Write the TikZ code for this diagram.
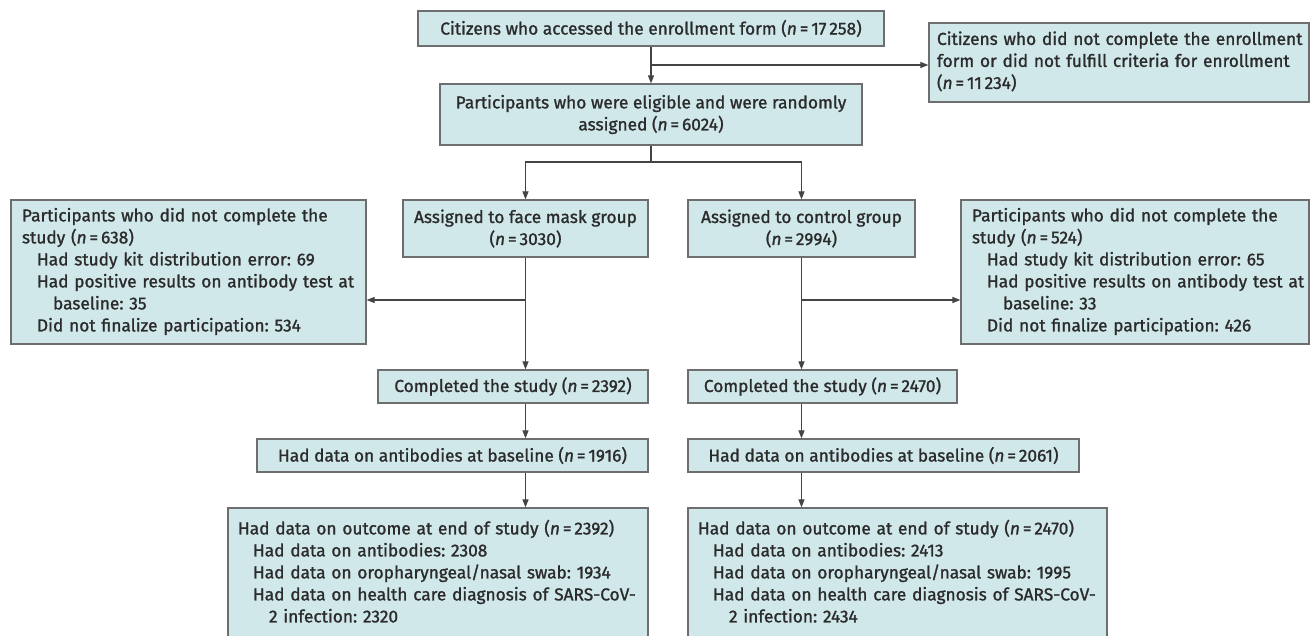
\documentclass[tikz,border=0pt]{standalone}
\usepackage{fontspec}
\setmainfont{Fira Sans}[FakeBold=1.2]
\usetikzlibrary{arrows.meta}
\definecolor{boxfill}{HTML}{D1E8EA}
\definecolor{boxline}{HTML}{6E6E6E}
\definecolor{txt}{HTML}{2B2B2B}
\definecolor{conn}{HTML}{444444}
\newcommand\indA{\hspace*{15pt}}
\newcommand\indB{\hspace*{31pt}}
\newcommand\boxlines[1]{\begin{tabular}{@{}l@{}}#1\end{tabular}}
\frenchspacing
\begin{document}
\begin{tikzpicture}[x=1pt,y=-1pt,
  every node/.style={font=\fontsize{17.3}{22}\selectfont\frenchspacing, text=txt},
  cbox/.style={draw=boxline, fill=boxfill, line width=1.2pt, inner sep=0pt, align=center},
  lbox/.style={draw=boxline, fill=boxfill, line width=1.2pt, inner xsep=10pt, inner ysep=0pt, align=left},
  arr/.style={draw=conn, line width=1.1pt, -{Triangle[length=8pt,width=6pt]}},
  ln/.style={draw=conn, line width=1.1pt}]
\useasboundingbox (0,0) rectangle (1310,635);
\fill[white] (0,0) rectangle (1310,635);

\node[cbox, minimum width=466pt, minimum height=35pt] (top) at (651,28.5)
  {Citizens who accessed the enrollment form (\textit{n}\,=\,17\,258)};
\node[lbox, inner xsep=8pt, text width=364pt, minimum height=79pt] (excl) at (1119,62.5)
  {\boxlines{Citizens who did not complete the enrollment\\form or did not fulfill criteria for enrollment\\(\textit{n}\,=\,11\,234)}};
\node[cbox, minimum width=422pt, minimum height=61pt] (elig) at (651,114.5)
  {Participants who were eligible and were randomly\\assigned (\textit{n}\,=\,6024)};
\node[cbox, minimum width=245pt, minimum height=57pt] (mask) at (525.5,228.5)
  {Assigned to face mask group\\(\textit{n}\,=\,3030)};
\node[cbox, minimum width=227pt, minimum height=57pt] (ctrl) at (801.5,228.5)
  {Assigned to control group\\(\textit{n}\,=\,2994)};
\node[lbox, inner xsep=11pt, text width=333pt, minimum height=144pt] (dropL) at (188.5,272)
  {\boxlines{Participants who did not complete the\\study (\textit{n}\,=\,638)\\\indA Had study kit distribution error: 69\\\indA Had positive results on antibody test at\\\indB baseline: 35\\\indA Did not finalize participation: 534}};
\node[lbox, inner xsep=11pt, text width=326pt, minimum height=144pt] (dropR) at (1135,272)
  {\boxlines{Participants who did not complete the\\study (\textit{n}\,=\,524)\\\indA Had study kit distribution error: 65\\\indA Had positive results on antibody test at\\\indB baseline: 33\\\indA Did not finalize participation: 426}};
\node[cbox, minimum width=270pt, minimum height=33pt] (compL) at (513,386.5)
  {Completed the study (\textit{n}\,=\,2392)};
\node[cbox, minimum width=269pt, minimum height=33pt] (compR) at (822.5,386.5)
  {Completed the study (\textit{n}\,=\,2470)};
\node[cbox, minimum width=391pt, minimum height=33pt] (abL) at (452.5,455.5)
  {Had data on antibodies at baseline (\textit{n}\,=\,1916)};
\node[cbox, minimum width=391pt, minimum height=33pt] (abR) at (883.5,455.5)
  {Had data on antibodies at baseline (\textit{n}\,=\,2061)};
\node[lbox, text width=400pt, minimum height=132pt] (outL) at (438,574)
  {\boxlines{Had data on outcome at end of study (\textit{n}\,=\,2392)\\\indA Had data on antibodies: 2308\\\indA Had data on oropharyngeal/nasal swab: 1934\\\indA Had data on health care diagnosis of SARS-CoV-\\\indB 2 infection: 2320}};
\node[lbox, text width=399pt, minimum height=132pt] (outR) at (897.5,574)
  {\boxlines{Had data on outcome at end of study (\textit{n}\,=\,2470)\\\indA Had data on antibodies: 2413\\\indA Had data on oropharyngeal/nasal swab: 1995\\\indA Had data on health care diagnosis of SARS-CoV-\\\indB 2 infection: 2434}};

\coordinate (b1) at (651,65);
\coordinate (s1) at (651,162);
\coordinate (b2) at (525.5,300);
\coordinate (b3) at (801.5,300);

\draw[arr] (top.south) -- (elig.north);
\draw[arr] (b1) -- (b1 -| excl.west);
\draw[ln] (elig.south) -- (s1);
\draw[arr] (s1) -| (mask.north);
\draw[arr] (s1) -| (ctrl.north);
\draw[arr] (mask.south) -- (mask.south |- compL.north);
\draw[arr] (ctrl.south) -- (ctrl.south |- compR.north);
\draw[arr] (b2) -- (b2 -| dropL.east);
\draw[arr] (b3) -- (b3 -| dropR.west);
\draw[arr] (mask.south |- compL.south) -- (mask.south |- abL.north);
\draw[arr] (ctrl.south |- compR.south) -- (ctrl.south |- abR.north);
\draw[arr] (mask.south |- abL.south) -- (mask.south |- outL.north);
\draw[arr] (ctrl.south |- abR.south) -- (ctrl.south |- outR.north);
\end{tikzpicture}
\end{document}
